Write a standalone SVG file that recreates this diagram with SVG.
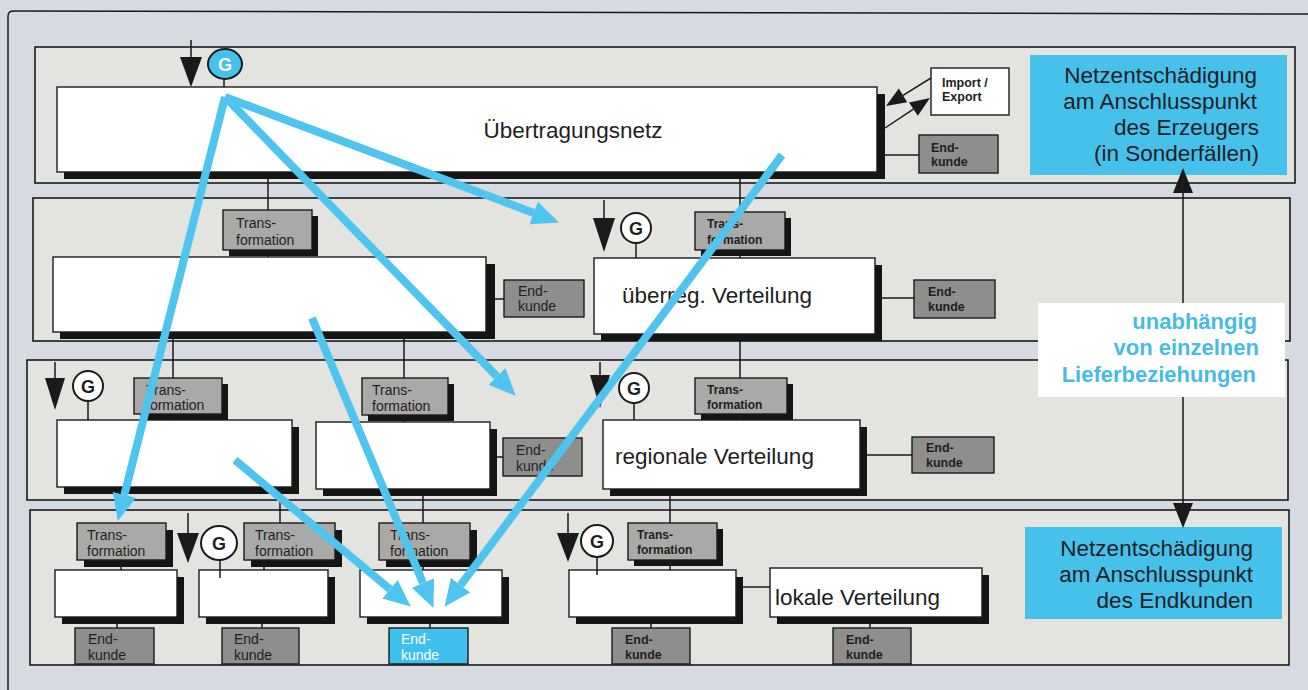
<svg xmlns="http://www.w3.org/2000/svg" width="1308" height="690" viewBox="0 0 1308 690">
  <style>
    .band { fill: #e3e3df; stroke: #1a1a1a; stroke-width: 1.6; }
    .shadow { fill: #151515; }
    .net { fill: #ffffff; stroke: #1a1a1a; stroke-width: 1.4; }
    .trans { fill: #a9a9a7; stroke: #1a1a1a; stroke-width: 1.4; }
    .ek { fill: #8e8e8c; stroke: #1a1a1a; stroke-width: 1.4; }
    .ekblue { fill: #3fc0ec; stroke: #1a1a1a; stroke-width: 1.4; }
    .info { fill: #45c1ec; }
    .gen { fill: #ffffff; stroke: #1a1a1a; stroke-width: 2; }
    .genblue { fill: #45c1ec; stroke: #1a1a1a; stroke-width: 2; }
    .wire { stroke: #1a1a1a; stroke-width: 1.5; fill: none; }
    .flow { stroke: #4fc4ef; stroke-width: 8; fill: none; marker-end: url(#bluehead); }
    .head { fill: #1a1a1a; }
    text { font-family: "Liberation Sans", Arial, sans-serif; fill: #1e1e1e; }
    .lvl { font-size: 22.5px; }
    .lg { font-size: 14px; }
    .sm { font-size: 12px; font-weight: bold; }
    .ek-sm { font-size: 12.5px; font-weight: bold; }
    .ginit { font-size: 18px; font-weight: bold; text-anchor: middle; }
    .note { font-size: 22.5px; text-anchor: end; }
    .lbl { font-size: 22px; font-weight: bold; fill: #45bbe6; text-anchor: end; }
  </style>
  <defs>
    <marker id="bluehead" markerUnits="userSpaceOnUse" markerWidth="28" markerHeight="26" viewBox="0 -13 28 26" refX="0" refY="0" orient="auto">
      <path d="M0,-12 L27,0 L0,12 z" fill="#4fc4ef"/>
    </marker>
  </defs>

  <!-- page -->
  <rect x="0" y="0" width="1308" height="690" fill="#d5dbe1"/>
  <path class="wire" d="M8,690 L8,16 Q8,11 14,11 L1308,14"/>

  <!-- voltage levels -->
  <g id="levels">
    <rect class="band" x="35" y="47" width="1260" height="136"/>
    <rect class="band" x="33" y="198" width="1257" height="143"/>
    <rect class="band" x="27" y="360" width="1261" height="140"/>
    <rect class="band" x="30" y="510" width="1259" height="155"/>
  </g>

  <!-- level 1 -->
  <g id="uebertragungsnetz">
    <rect class="shadow" x="64" y="94" width="821" height="85"/>
    <rect class="net" x="57" y="87" width="820" height="85"/>
    <text class="lvl" x="573" y="138" text-anchor="middle">Übertragungsnetz</text>
  </g>
  <g id="gen-1">
    <ellipse class="genblue" cx="225" cy="64" rx="17" ry="15"/>
    <text class="ginit" x="225" y="71" style="fill:#ffffff">G</text>
  </g>
  <g id="import-export">
    <rect class="net" x="931" y="68" width="78" height="47"/>
    <text class="ek-sm" x="942" y="87">Import /</text>
    <text class="ek-sm" x="942" y="101">Export</text>
  </g>
  <g id="endkunde-1">
    <rect class="ek" x="919" y="135" width="79" height="38"/>
    <text class="ek-sm" x="931" y="152">End-</text>
    <text class="ek-sm" x="931" y="166">kunde</text>
  </g>
  <g id="info-erzeuger">
    <rect class="info" x="1030" y="55" width="257" height="120"/>
    <text class="note" x="1257" y="83">Netzentschädigung</text>
    <text class="note" x="1257" y="109">am Anschlusspunkt</text>
    <text class="note" x="1259" y="135">des Erzeugers</text>
    <text class="note" x="1259" y="161">(in Sonderfällen)</text>
  </g>

  <!-- level 2 -->
  <g id="trans-2a">
    <rect class="shadow" x="229" y="216" width="89" height="40"/>
    <rect class="trans" x="223" y="210" width="89" height="40"/>
    <text class="lg" x="236" y="228">Trans-</text>
    <text class="lg" x="236" y="245">formation</text>
  </g>
  <g id="netz-2a">
    <rect class="shadow" x="60" y="264" width="435" height="75"/>
    <rect class="net" x="53" y="257" width="433" height="75"/>
  </g>
  <g id="endkunde-2a">
    <rect class="ek" x="504" y="280" width="80" height="37"/>
    <text class="lg" x="518" y="296">End-</text>
    <text class="lg" x="518" y="311">kunde</text>
  </g>
  <g id="gen-2">
    <circle class="gen" cx="636" cy="228" r="15"/>
    <text class="ginit" x="636" y="235">G</text>
  </g>
  <g id="trans-2b">
    <rect class="shadow" x="701" y="218" width="90" height="38"/>
    <rect class="trans" x="695" y="212" width="90" height="38"/>
    <text class="sm" x="707" y="228">Trans-</text>
    <text class="sm" x="707" y="244">formation</text>
  </g>
  <g id="ueberreg-verteilung">
    <rect class="shadow" x="601" y="265" width="281" height="76"/>
    <rect class="net" x="594" y="258" width="281" height="76"/>
    <text class="lvl" x="622" y="303">überreg. Verteilung</text>
  </g>
  <g id="endkunde-2b">
    <rect class="ek" x="914" y="280" width="81" height="38"/>
    <text class="ek-sm" x="928" y="296">End-</text>
    <text class="ek-sm" x="928" y="311">kunde</text>
  </g>

  <!-- level 3 -->
  <g id="gen-3a">
    <circle class="gen" cx="88" cy="386" r="15"/>
    <text class="ginit" x="88" y="393">G</text>
  </g>
  <g id="trans-3a">
    <rect class="shadow" x="140" y="384" width="88" height="36"/>
    <rect class="trans" x="134" y="378" width="88" height="36"/>
    <text class="lg" x="146" y="395">Trans-</text>
    <text class="lg" x="146" y="410">formation</text>
  </g>
  <g id="netz-3a">
    <rect class="shadow" x="64" y="427" width="235" height="67"/>
    <rect class="net" x="57" y="420" width="235" height="67"/>
  </g>
  <g id="trans-3b">
    <rect class="shadow" x="368" y="384" width="86" height="37"/>
    <rect class="trans" x="362" y="378" width="86" height="37"/>
    <text class="lg" x="372" y="395">Trans-</text>
    <text class="lg" x="372" y="411">formation</text>
  </g>
  <g id="netz-3b">
    <rect class="shadow" x="323" y="429" width="174" height="67"/>
    <rect class="net" x="316" y="422" width="174" height="67"/>
  </g>
  <g id="endkunde-3a">
    <rect class="ek" x="503" y="438" width="79" height="38"/>
    <text class="lg" x="516" y="455">End-</text>
    <text class="lg" x="516" y="471">kunde</text>
  </g>
  <g id="gen-3b">
    <circle class="gen" cx="634" cy="388" r="15"/>
    <text class="ginit" x="634" y="395">G</text>
  </g>
  <g id="trans-3c">
    <rect class="shadow" x="701" y="384" width="92" height="36"/>
    <rect class="trans" x="695" y="378" width="92" height="36"/>
    <text class="sm" x="707" y="394">Trans-</text>
    <text class="sm" x="707" y="409">formation</text>
  </g>
  <g id="regionale-verteilung">
    <rect class="shadow" x="610" y="427" width="257" height="69"/>
    <rect class="net" x="603" y="420" width="257" height="69"/>
    <text class="lvl" x="615" y="464">regionale Verteilung</text>
  </g>
  <g id="endkunde-3b">
    <rect class="ek" x="912" y="437" width="82" height="36"/>
    <text class="ek-sm" x="926" y="452">End-</text>
    <text class="ek-sm" x="926" y="467">kunde</text>
  </g>

  <!-- level 4 -->
  <g id="trans-4a">
    <rect class="shadow" x="84" y="530" width="89" height="37"/>
    <rect class="trans" x="77" y="523" width="89" height="37"/>
    <text class="lg" x="87" y="540">Trans-</text>
    <text class="lg" x="87" y="556">formation</text>
  </g>
  <g id="netz-4a">
    <rect class="shadow" x="62" y="577" width="122" height="47"/>
    <rect class="net" x="55" y="570" width="122" height="47"/>
  </g>
  <g id="endkunde-4a">
    <rect class="ek" x="75" y="628" width="79" height="36"/>
    <text class="lg" x="88" y="644">End-</text>
    <text class="lg" x="88" y="660">kunde</text>
  </g>
  <g id="gen-4a">
    <ellipse class="gen" cx="219" cy="543" rx="18" ry="17"/>
    <text class="ginit" x="219" y="550">G</text>
  </g>
  <g id="trans-4b">
    <rect class="shadow" x="251" y="530" width="91" height="37"/>
    <rect class="trans" x="244" y="523" width="91" height="37"/>
    <text class="lg" x="255" y="540">Trans-</text>
    <text class="lg" x="255" y="556">formation</text>
  </g>
  <g id="netz-4b">
    <rect class="shadow" x="206" y="577" width="129" height="47"/>
    <rect class="net" x="199" y="570" width="129" height="47"/>
  </g>
  <g id="endkunde-4b">
    <rect class="ek" x="222" y="628" width="77" height="36"/>
    <text class="lg" x="234" y="644">End-</text>
    <text class="lg" x="234" y="660">kunde</text>
  </g>
  <g id="trans-4c">
    <rect class="shadow" x="386" y="530" width="91" height="37"/>
    <rect class="trans" x="379" y="523" width="91" height="37"/>
    <text class="lg" x="390" y="540">Trans-</text>
    <text class="lg" x="390" y="556">formation</text>
  </g>
  <g id="netz-4c">
    <rect class="shadow" x="367" y="577" width="142" height="47"/>
    <rect class="net" x="360" y="570" width="142" height="47"/>
  </g>
  <g id="endkunde-4c">
    <rect class="ekblue" x="389" y="628" width="79" height="36"/>
    <text class="lg" x="401" y="644" style="fill:#ffffff">End-</text>
    <text class="lg" x="401" y="660" style="fill:#ffffff">kunde</text>
  </g>
  <g id="gen-4b">
    <circle class="gen" cx="597" cy="541" r="16"/>
    <text class="ginit" x="597" y="548">G</text>
  </g>
  <g id="trans-4d">
    <rect class="shadow" x="634" y="529" width="89" height="37"/>
    <rect class="trans" x="628" y="523" width="89" height="37"/>
    <text class="sm" x="637" y="539">Trans-</text>
    <text class="sm" x="637" y="554">formation</text>
  </g>
  <g id="netz-4d">
    <rect class="shadow" x="576" y="577" width="167" height="47"/>
    <rect class="net" x="569" y="570" width="167" height="47"/>
  </g>
  <g id="lokale-verteilung">
    <rect class="shadow" x="777" y="575" width="212" height="49"/>
    <rect class="net" x="770" y="568" width="212" height="49"/>
    <text class="lvl" x="775" y="605">lokale Verteilung</text>
  </g>
  <g id="endkunde-4d">
    <rect class="ek" x="612" y="628" width="78" height="36"/>
    <text class="ek-sm" x="625" y="644">End-</text>
    <text class="ek-sm" x="625" y="659">kunde</text>
  </g>
  <g id="endkunde-4e">
    <rect class="ek" x="833" y="628" width="78" height="36"/>
    <text class="ek-sm" x="846" y="644">End-</text>
    <text class="ek-sm" x="846" y="659">kunde</text>
  </g>
  <g id="info-endkunden">
    <rect class="info" x="1025" y="527" width="257" height="92"/>
    <text class="note" x="1253" y="556">Netzentschädigung</text>
    <text class="note" x="1253" y="582">am Anschlusspunkt</text>
    <text class="note" x="1253" y="608">des Endkunden</text>
  </g>

  <g id="label-unabhaengig">
    <rect x="1038" y="303" width="247" height="94" fill="#ffffff"/>
    <text class="lbl" x="1257" y="329">unabhängig</text>
    <text class="lbl" x="1259" y="355">von einzelnen</text>
    <text class="lbl" x="1256" y="382">Lieferbeziehungen</text>
  </g>

  <!-- connectors -->
  <g id="connectors">
    <!-- thin links between levels and boxes -->
    <path class="wire" d="M268,179 V210 M740,179 V212 M268,250 V257 M740,250 V258
      M885,155 H919 M495,299 H504 M882,298 H914
      M173,339 V378 M404,339 V378 M740,341 V378
      M173,414 V420 M404,415 V422 M740,414 V420
      M497,457 H503 M867,455 H912
      M280,494 V523 M423,496 V523 M670,496 V523
      M121,560 V570 M264,560 V570 M423,560 V570 M670,560 V570
      M117,624 V628 M262,624 V628 M430,624 V628 M651,624 V628 M870,624 V628
      M743,587 H770
      M224,79 V87 M636,243 V258 M88,401 V420 M634,403 V420 M220,560 V578 M597,557 V575"/>

    <!-- power fed in from the level above -->
    <path class="wire" d="M191,40 V58 M604,200 V219 M55,362 V379 M600,362 V376 M188,513 V534 M568,513 V534"/>
    <polygon class="head" points="180,57 202,57 191,87"/>
    <polygon class="head" points="593,218 615,218 604,252"/>
    <polygon class="head" points="45,378 65,378 55,410"/>
    <polygon class="head" points="590,375 610,375 600,408"/>
    <polygon class="head" points="177,533 199,533 188,563"/>
    <polygon class="head" points="557,533 579,533 568,562"/>

    <!-- import / export -->
    <path class="wire" d="M931,78 L903,95.4 M885,128 L913.4,109.1"/>
    <polygon class="head" points="886,106 898.8,88.6 907.2,102.2"/>
    <polygon class="head" points="930,98 917.8,115.8 909,102.4"/>

    <!-- both charging points -->
    <path class="wire" d="M1183,190 V303 M1183,397 V505"/>
    <polygon class="head" points="1173,193 1193,193 1183,168"/>
    <polygon class="head" points="1173,503 1193,503 1183,528"/>

    <!-- energy flows -->
    <line class="flow" x1="225" y1="97" x2="124.4" y2="494.8"/>
    <line class="flow" x1="225" y1="97" x2="496.9" y2="376.4"/>
    <line class="flow" x1="225" y1="97" x2="533.7" y2="212.9"/>
    <line class="flow" x1="312" y1="318" x2="423.0" y2="583.0"/>
    <line class="flow" x1="235" y1="460" x2="390.0" y2="589.3"/>
    <line class="flow" x1="782" y1="155" x2="460.6" y2="585.2"/>
  </g>
</svg>
